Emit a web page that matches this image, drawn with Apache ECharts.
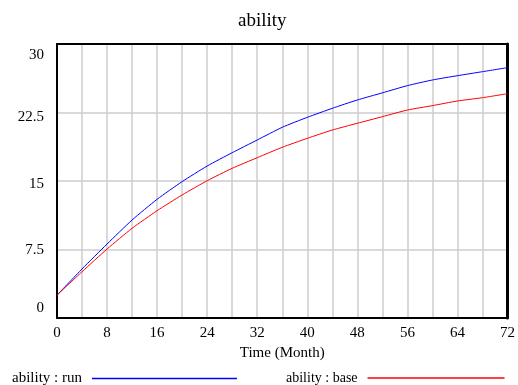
<!DOCTYPE html>
<html>
<head>
<meta charset="utf-8">
<script src="https://cdn.jsdelivr.net/npm/echarts@6/dist/echarts.min.js"></script>
<style>
  html, body { margin: 0; padding: 0; background: #fff; }
  #chart { width: 518px; height: 385px; }
</style>
</head>
<body>
<div id="chart"></div>
<script>
// months, sampled every 4
var months = [0, 4, 8, 12, 16, 20, 24, 28, 32, 36, 40, 44, 48, 52, 56, 60, 64, 68, 72];
var abilityRun  = [2.5, 5.37, 8.1, 10.73, 13.0, 14.93, 16.64, 18.1, 19.49, 20.88, 21.97, 22.96, 23.87, 24.65, 25.44, 26.06, 26.53, 26.97, 27.41];
var abilityBase = [2.5, 5.07, 7.55, 9.82, 11.75, 13.47, 15.03, 16.39, 17.55, 18.69, 19.67, 20.58, 21.32, 22.04, 22.77, 23.25, 23.76, 24.12, 24.56];
var yTicks = [0, 7.5, 15, 22.5, 30];

var serif = 'Liberation Serif';
var frame = { show: true, onZero: false, lineStyle: { color: '#000', width: 2 } };

function pairs(xs, ys) {
  var out = [];
  for (var i = 0; i < xs.length; i++) out.push([xs[i], ys[i]]);
  return out;
}

var chart = echarts.init(document.getElementById('chart'));

var option = {
  backgroundColor: '#fff',
  animation: false,
  title: {
    text: 'ability',
    left: 233,
    top: 7,
    textStyle: { fontFamily: serif, fontSize: 19, fontWeight: 'normal', color: '#000' }
  },
  grid: { left: 57, right: 6, top: 44, bottom: 67 },
  legend: [
    {
      data: ['ability : run'],
      left: 12, top: 371, padding: 0,
      align: 'right',
      icon: 'rect', itemWidth: 145, itemHeight: 1.5,
      textStyle: { fontFamily: serif, fontSize: 15, color: '#000', padding: [0, 5, 0, 0] }
    },
    {
      data: ['ability : base'],
      left: 286, top: 371, padding: 0,
      align: 'right',
      icon: 'rect', itemWidth: 137, itemHeight: 1.5,
      textStyle: { fontFamily: serif, fontSize: 14, color: '#000', padding: [0, 5, 0, 0] }
    }
  ],
  xAxis: [
    {
      type: 'value',
      min: 0, max: 72, interval: 4,
      name: 'Time (Month)',
      nameLocation: 'middle',
      nameGap: 27,
      nameTextStyle: { fontFamily: serif, fontSize: 15, color: '#000' },
      axisLine: { show: false },
      axisTick: { show: false },
      axisLabel: {
        margin: 8,
        fontFamily: serif, fontSize: 15, color: '#000',
        formatter: function (v) { return v % 8 === 0 ? String(v) : ''; }
      },
      splitLine: { show: true, lineStyle: { color: '#cccccc', width: 1.5 } }
    },
    // frame: bottom and top edges
    { type: 'value', min: 0, max: 72, position: 'bottom', axisLine: frame, axisTick: { show: false }, axisLabel: { show: false }, splitLine: { show: false } },
    { type: 'value', min: 0, max: 72, position: 'top', axisLine: frame, axisTick: { show: false }, axisLabel: { show: false }, splitLine: { show: false } }
  ],
  yAxis: [
    {
      type: 'value',
      min: 0, max: 30, interval: 7.5,
      axisLine: { show: false },
      axisTick: { show: false },
      axisLabel: {
        margin: 13,
        fontFamily: serif, fontSize: 15, color: '#000',
        formatter: function (v) {
          var i = yTicks.indexOf(v);
          return '{p' + i + '|' + v + '}';
        },
        rich: {
          p0: { fontFamily: serif, fontSize: 15, padding: [0, 0, 20, 0] },
          p1: { fontFamily: serif, fontSize: 15, padding: [2, 0, 0, 0] },
          p2: { fontFamily: serif, fontSize: 15, padding: [6, 0, 0, 0] },
          p3: { fontFamily: serif, fontSize: 15, padding: [10, 0, 0, 0] },
          p4: { fontFamily: serif, fontSize: 15, padding: [22, 0, 0, 0] }
        }
      },
      splitLine: { show: true, lineStyle: { color: '#cccccc', width: 1.5 } }
    },
    // frame: left and right edges
    { type: 'value', min: 0, max: 30, position: 'left', axisLine: frame, axisTick: { show: false }, axisLabel: { show: false }, splitLine: { show: false } },
    { type: 'value', min: 0, max: 30, position: 'right', axisLine: { show: true, onZero: false, lineStyle: { color: '#000', width: 3 } }, axisTick: { show: false }, axisLabel: { show: false }, splitLine: { show: false } }
  ],
  series: [
    {
      name: 'ability : run',
      type: 'line',
      data: pairs(months, abilityRun),
      showSymbol: false,
      smooth: 0.2,
      color: '#0000ff',
      lineStyle: { color: '#0000ff', width: 1 }
    },
    {
      name: 'ability : base',
      type: 'line',
      data: pairs(months, abilityBase),
      showSymbol: false,
      smooth: 0.2,
      color: '#ff0000',
      lineStyle: { color: '#ff0000', width: 1 }
    }
  ]
};

chart.setOption(option);
</script>
</body>
</html>
